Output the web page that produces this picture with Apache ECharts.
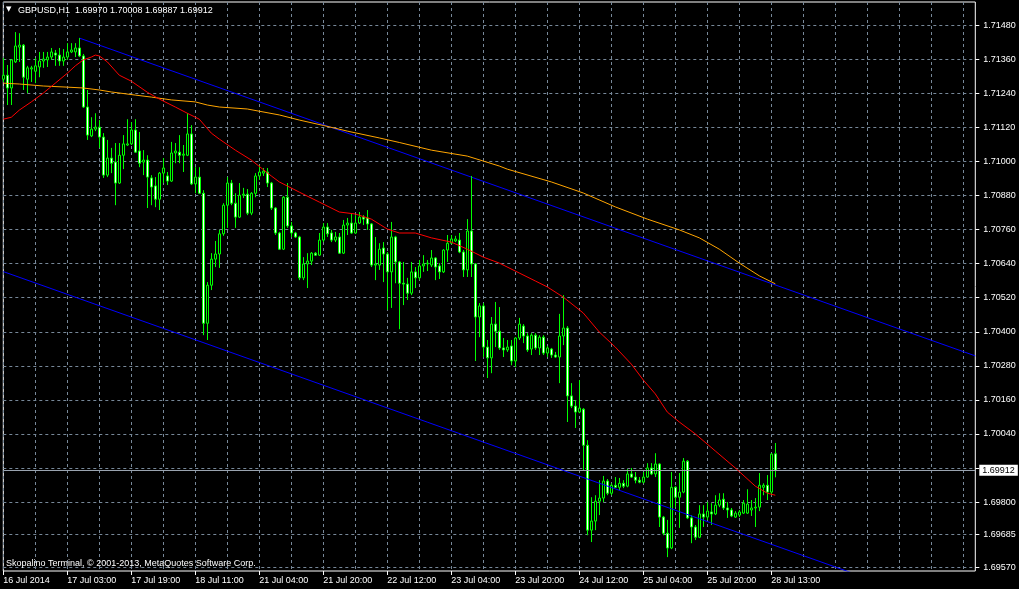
<!DOCTYPE html>
<html>
<head>
<meta charset="utf-8">
<script src="https://cdn.jsdelivr.net/npm/echarts/dist/echarts.min.js"></script>
<style>
html,body{margin:0;padding:0;background:#000;}
#chart{width:1019px;height:589px;}
</style>
</head>
<body>
<div id="chart"></div>
<script>
// ---------- data ----------
const symbol = 'GBPUSD,H1';
const copyright = 'Skopalino Terminal, \u00a9 2001-2013, MetaQuotes Software Corp.';
const tickLabels = ['16 Jul 2014','17 Jul 03:00','17 Jul 19:00','18 Jul 11:00','21 Jul 04:00','21 Jul 20:00',
  '22 Jul 12:00','23 Jul 04:00','23 Jul 20:00','24 Jul 12:00','25 Jul 04:00','25 Jul 20:00','28 Jul 13:00'];
const barsPerLabel = 16;
const barsPerGridLine = 8;
const slotCount = 244; // bars + empty space to the right edge
const priceLabels = [1.69570,1.69685,1.69800,1.70040,1.70160,1.70280,1.70400,1.70520,1.70640,1.70760,1.70880,1.71000,1.71120,1.71240,1.71360,1.71480];
const priceGrid = [1.69570,1.69685,1.69800,1.69920,1.70040,1.70160,1.70280,1.70400,1.70520,1.70640,1.70760,1.70880,1.71000,1.71120,1.71240,1.71360,1.71480];
const priceMin = 1.69557, priceMax = 1.71562;

// [open, close, low, high]
const ohlc = [
[1.71290,1.71304,1.71280,1.71365],[1.71304,1.71259,1.71199,1.71340],[1.71259,1.71358,1.71199,1.71361],[1.71351,1.71407,1.71347,1.71456],
[1.71403,1.71410,1.71351,1.71452],[1.71410,1.71297,1.71252,1.71414],[1.71290,1.71330,1.71241,1.71337],[1.71326,1.71330,1.71280,1.71337],
[1.71318,1.71337,1.71276,1.71365],[1.71333,1.71354,1.71297,1.71386],[1.71354,1.71361,1.71330,1.71386],[1.71358,1.71368,1.71333,1.71386],
[1.71368,1.71386,1.71358,1.71400],[1.71382,1.71375,1.71337,1.71393],[1.71375,1.71354,1.71337,1.71400],[1.71354,1.71368,1.71337,1.71396],
[1.71368,1.71386,1.71358,1.71417],[1.71386,1.71393,1.71382,1.71417],[1.71386,1.71400,1.71368,1.71417],[1.71400,1.71372,1.71368,1.71435],
[1.71372,1.71192,1.71189,1.71379],[1.71192,1.71093,1.71076,1.71252],[1.71090,1.71114,1.71086,1.71156],[1.71114,1.71121,1.71107,1.71170],
[1.71121,1.71086,1.71048,1.71146],[1.71086,1.70952,1.70942,1.71100],[1.70952,1.71012,1.70945,1.71076],[1.71012,1.70994,1.70959,1.71048],
[1.70998,1.70924,1.70846,1.71065],[1.70924,1.71022,1.70921,1.71065],[1.71022,1.71062,1.70973,1.71093],[1.71058,1.71062,1.71055,1.71149],
[1.71062,1.71111,1.71058,1.71139],[1.71111,1.71033,1.71030,1.71149],[1.71037,1.70994,1.70980,1.71104],[1.70998,1.71005,1.70952,1.71040],
[1.71005,1.70945,1.70836,1.71022],[1.70942,1.70910,1.70846,1.70952],[1.70914,1.70867,1.70839,1.70945],[1.70867,1.70959,1.70829,1.70963],
[1.70959,1.70977,1.70924,1.71012],[1.70949,1.70931,1.70917,1.70963],[1.70931,1.71030,1.70928,1.71069],[1.71030,1.71037,1.70994,1.71065],
[1.71033,1.71022,1.70994,1.71093],[1.71022,1.71026,1.70963,1.71058],[1.71022,1.71097,1.71019,1.71170],[1.71097,1.70921,1.70917,1.71128],
[1.70921,1.70945,1.70888,1.70980],[1.70945,1.70888,1.70885,1.70980],[1.70888,1.70430,1.70388,1.70899],[1.70430,1.70564,1.70371,1.70575],
[1.70564,1.70656,1.70547,1.70677],[1.70656,1.70674,1.70628,1.70720],[1.70674,1.70745,1.70625,1.70759],[1.70745,1.70846,1.70738,1.70853],
[1.70846,1.70924,1.70766,1.70945],[1.70924,1.70853,1.70846,1.70935],[1.70853,1.70804,1.70766,1.70888],[1.70804,1.70881,1.70801,1.70924],
[1.70881,1.70885,1.70871,1.70907],[1.70885,1.70818,1.70811,1.70903],[1.70818,1.70888,1.70811,1.70892],[1.70888,1.70949,1.70874,1.70959],
[1.70949,1.70963,1.70935,1.70987],[1.70959,1.70966,1.70949,1.70977],[1.70963,1.70924,1.70910,1.70977],[1.70924,1.70836,1.70829,1.70928],
[1.70836,1.70748,1.70741,1.70839],[1.70748,1.70691,1.70688,1.70752],[1.70691,1.70874,1.70688,1.70878],[1.70874,1.70773,1.70766,1.70924],
[1.70773,1.70748,1.70734,1.70787],[1.70748,1.70734,1.70731,1.70752],[1.70734,1.70590,1.70582,1.70738],[1.70590,1.70639,1.70582,1.70663],
[1.70639,1.70649,1.70554,1.70677],[1.70649,1.70677,1.70635,1.70681],[1.70677,1.70670,1.70667,1.70681],[1.70670,1.70723,1.70667,1.70748],
[1.70723,1.70769,1.70716,1.70783],[1.70769,1.70745,1.70734,1.70783],[1.70748,1.70723,1.70716,1.70759],[1.70723,1.70734,1.70716,1.70752],
[1.70734,1.70677,1.70674,1.70748],[1.70677,1.70776,1.70674,1.70794],[1.70776,1.70783,1.70741,1.70801],[1.70783,1.70748,1.70745,1.70818],
[1.70748,1.70783,1.70745,1.70811],[1.70783,1.70804,1.70780,1.70822],[1.70804,1.70797,1.70776,1.70811],[1.70801,1.70780,1.70759,1.70829],
[1.70780,1.70635,1.70628,1.70783],[1.70635,1.70639,1.70582,1.70734],[1.70635,1.70691,1.70618,1.70712],[1.70695,1.70674,1.70575,1.70716],
[1.70674,1.70611,1.70477,1.70681],[1.70611,1.70734,1.70484,1.70787],[1.70734,1.70646,1.70571,1.70738],[1.70646,1.70571,1.70409,1.70649],
[1.70571,1.70568,1.70494,1.70646],[1.70568,1.70536,1.70512,1.70590],[1.70536,1.70611,1.70529,1.70646],[1.70611,1.70590,1.70554,1.70628],
[1.70590,1.70632,1.70582,1.70653],[1.70632,1.70639,1.70611,1.70670],[1.70639,1.70642,1.70614,1.70653],[1.70635,1.70660,1.70628,1.70688],
[1.70660,1.70628,1.70582,1.70663],[1.70632,1.70611,1.70586,1.70642],[1.70611,1.70688,1.70607,1.70691],[1.70688,1.70712,1.70646,1.70741],
[1.70712,1.70727,1.70709,1.70741],[1.70720,1.70727,1.70716,1.70738],[1.70723,1.70681,1.70677,1.70748],[1.70681,1.70618,1.70593,1.70688],
[1.70618,1.70755,1.70593,1.70797],[1.70755,1.70639,1.70593,1.70949],[1.70639,1.70452,1.70297,1.70642],[1.70452,1.70491,1.70381,1.70501],
[1.70491,1.70346,1.70311,1.70501],[1.70346,1.70308,1.70237,1.70371],[1.70308,1.70427,1.70254,1.70452],[1.70427,1.70402,1.70346,1.70505],
[1.70402,1.70343,1.70336,1.70487],[1.70343,1.70336,1.70311,1.70378],[1.70336,1.70346,1.70329,1.70371],[1.70350,1.70297,1.70282,1.70371],
[1.70297,1.70378,1.70275,1.70381],[1.70378,1.70427,1.70371,1.70449],[1.70420,1.70385,1.70360,1.70427],[1.70385,1.70336,1.70329,1.70395],
[1.70339,1.70388,1.70318,1.70395],[1.70388,1.70343,1.70336,1.70395],[1.70343,1.70381,1.70318,1.70388],[1.70381,1.70325,1.70318,1.70388],
[1.70325,1.70343,1.70311,1.70350],[1.70339,1.70318,1.70308,1.70343],[1.70318,1.70311,1.70308,1.70329],[1.70311,1.70385,1.70219,1.70463],
[1.70385,1.70413,1.70353,1.70529],[1.70413,1.70174,1.70082,1.70420],[1.70174,1.70138,1.70131,1.70219],[1.70138,1.70117,1.70061,1.70159],
[1.70117,1.70131,1.70113,1.70230],[1.70127,1.70000,1.69913,1.70131],[1.70000,1.69701,1.69683,1.70018],[1.69701,1.69733,1.69659,1.69817],
[1.69733,1.69803,1.69701,1.69824],[1.69803,1.69814,1.69754,1.69877],[1.69814,1.69874,1.69800,1.69892],[1.69874,1.69831,1.69824,1.69881],
[1.69831,1.69859,1.69824,1.69866],[1.69859,1.69852,1.69849,1.69888],[1.69852,1.69866,1.69842,1.69885],[1.69866,1.69856,1.69849,1.69877],
[1.69856,1.69899,1.69852,1.69916],[1.69899,1.69888,1.69885,1.69920],[1.69888,1.69877,1.69866,1.69906],[1.69877,1.69870,1.69866,1.69888],
[1.69870,1.69888,1.69866,1.69906],[1.69888,1.69920,1.69885,1.69937],[1.69920,1.69899,1.69895,1.69937],[1.69899,1.69934,1.69888,1.69972],
[1.69934,1.69747,1.69712,1.69937],[1.69747,1.69690,1.69683,1.69751],[1.69690,1.69638,1.69606,1.69737],[1.69638,1.69852,1.69634,1.69906],
[1.69852,1.69817,1.69782,1.69856],[1.69817,1.69835,1.69709,1.69902],[1.69835,1.69944,1.69831,1.69955],[1.69944,1.69744,1.69740,1.69948],
[1.69744,1.69712,1.69655,1.69754],[1.69712,1.69676,1.69666,1.69719],[1.69676,1.69758,1.69673,1.69789],[1.69758,1.69747,1.69712,1.69789],
[1.69747,1.69768,1.69737,1.69800],[1.69765,1.69758,1.69719,1.69796],[1.69758,1.69789,1.69754,1.69824],[1.69789,1.69807,1.69782,1.69831],
[1.69810,1.69779,1.69772,1.69831],[1.69779,1.69772,1.69744,1.69800],[1.69772,1.69751,1.69747,1.69779],[1.69747,1.69761,1.69744,1.69768],
[1.69754,1.69765,1.69747,1.69772],[1.69761,1.69796,1.69758,1.69807],[1.69761,1.69793,1.69758,1.69845],[1.69772,1.69779,1.69751,1.69807],
[1.69779,1.69782,1.69712,1.69814],[1.69782,1.69859,1.69768,1.69902],[1.69852,1.69859,1.69824,1.69866],[1.69859,1.69835,1.69807,1.69895],
[1.69835,1.69969,1.69824,1.69972],[1.69970,1.69912,1.69887,1.70008]
];

// moving averages, read at bar indices: [barIndex, price]
const maFast = [[0,1.71149],[2,1.71156],[4,1.71181],[7,1.71210],[10,1.71241],[13,1.71276],[16,1.71311],[18,1.71337],[20,1.71358],
[22,1.71368],[23,1.71375],[24,1.71372],[26,1.71351],[29,1.71304],[32,1.71283],[36,1.71244],[39,1.71220],[43,1.71192],[46,1.71170],
[49,1.71149],[52,1.71100],[54,1.71079],[58,1.71040],[62,1.71005],[67,1.70949],[69,1.70928],[74,1.70892],[79,1.70857],[84,1.70822],
[88,1.70815],[92,1.70797],[96,1.70762],[99,1.70748],[103,1.70748],[107,1.70731],[112,1.70716],[116,1.70691],[120,1.70663],[124,1.70642],
[128,1.70614],[133,1.70579],[136,1.70558],[140,1.70522],[145,1.70466],[149,1.70399],[153,1.70346],[157,1.70286],[160,1.70230],[163,1.70181],
[166,1.70117],[169,1.70082],[173,1.70040],[178,1.69980],[183,1.69920],[188,1.69856],[191,1.69831],[193,1.69824]];
const maSlow = [[0,1.71276],[4,1.71273],[10,1.71266],[16,1.71262],[20,1.71259],[24,1.71252],[27,1.71245],[33,1.71234],[37,1.71227],
[42,1.71217],[48,1.71210],[51,1.71199],[54,1.71192],[61,1.71185],[69,1.71164],[74,1.71146],[80,1.71127],[86,1.71107],[94,1.71083],
[99,1.71067],[107,1.71040],[116,1.71019],[124,1.70984],[126,1.70973],[137,1.70928],[145,1.70889],[153,1.70840],[161,1.70797],
[169,1.70759],[174,1.70731],[179,1.70691],[184,1.70642],[189,1.70597],[193,1.70569]];
// channel lines: [barIndex, price]
const channelUpper = [[19,1.71435],[243,1.70315]];
const channelLower = [[0,1.70612],[243,1.69396]];

// ---------- chart ----------
const FONT = 'Liberation Sans, Arial, sans-serif';
const GRIDC = '#778899';
const last = ohlc[ohlc.length - 1];
const fmt = v => v.toFixed(5);
const headerText = symbol + '  ' + fmt(last[0]) + ' ' + fmt(last[3]) + ' ' + fmt(last[2]) + ' ' + fmt(last[1]);
const slots = Array.from({length: slotCount}, (_, i) => String(i));
const isLabelSlot = i => i % barsPerLabel === 0 && i / barsPerLabel < tickLabels.length;

const chart = echarts.init(document.getElementById('chart'), null, {renderer: 'canvas'});
chart.setOption({
  animation: false,
  backgroundColor: '#000000',
  textStyle: {fontFamily: FONT},
  title: [
    {text: '\u25BC', left: 6, top: 6, padding: 0, textStyle: {color: '#fff', fontSize: 7, fontWeight: 'normal', fontFamily: 'DejaVu Sans'}},
    {text: headerText, left: 18, top: 5, padding: 0, textStyle: {color: '#fff', fontSize: 9, lineHeight: 11, fontWeight: 'normal', fontFamily: FONT}},
    {text: copyright, left: 6, top: 558, padding: 0, textStyle: {color: '#fff', fontSize: 9, lineHeight: 11, fontWeight: 'normal', fontFamily: FONT}}
  ],
  grid: {left: 3.3, top: 2, width: 972, height: 569, show: true, borderColor: '#ffffff', borderWidth: 1, backgroundColor: 'transparent', containLabel: false},
  xAxis: {
    type: 'category', data: slots, boundaryGap: false,
    axisLine: {show: false},
    axisTick: {show: true, length: 4, interval: (i) => isLabelSlot(i), lineStyle: {color: '#ffffff'}},
    axisLabel: {show: true, interval: (i) => isLabelSlot(i), formatter: (v, i) => isLabelSlot(i) ? tickLabels[i / barsPerLabel] : '',
      align: 'left', color: '#ffffff', fontSize: 9, fontFamily: FONT, margin: 5},
    splitLine: {show: true, interval: (i) => i % barsPerGridLine === 0, lineStyle: {color: GRIDC, type: [3, 3], width: 1}}
  },
  yAxis: {
    type: 'value', position: 'right', min: priceMin, max: priceMax, scale: true,
    axisLine: {show: false},
    axisTick: {show: true, length: 4, customValues: priceGrid, lineStyle: {color: '#ffffff'}},
    axisLabel: {show: true, customValues: priceLabels, formatter: v => fmt(v), color: '#ffffff', fontSize: 9, fontFamily: FONT, margin: 8},
    splitLine: {show: true, lineStyle: {color: GRIDC, type: [3, 3], width: 1}}
  },
  series: [
    {
      type: 'line', data: channelUpper, symbol: 'none', lineStyle: {color: '#0000ff', width: 1}, z: 3, clip: true,
      markLine: {
        silent: true, symbol: ['none', 'none'], animation: false, precision: 5,
        lineStyle: {color: '#9aa4b0', type: 'solid', width: 1},
        label: {show: true, position: 'end', distance: 4, formatter: () => fmt(last[1]), color: '#000000', backgroundColor: '#ffffff',
          fontSize: 9, fontFamily: FONT, lineHeight: 10, padding: [1, 3, 0, 3]},
        data: [{yAxis: last[1]}]
      }
    },
    {
      type: 'candlestick', data: ohlc, barWidth: 3, z: 4,
      itemStyle: {color: '#000000', color0: '#ffffff', borderColor: '#00ff00', borderColor0: '#00ff00', borderWidth: 1}
    },
    {type: 'line', data: channelLower, symbol: 'none', lineStyle: {color: '#0000ff', width: 1}, z: 5, clip: true},
    {type: 'line', data: maSlow, symbol: 'none', lineStyle: {color: '#ffa500', width: 1}, z: 5, clip: true},
    {type: 'line', data: maFast, symbol: 'none', lineStyle: {color: '#ff0000', width: 1}, z: 6, clip: true}
  ]
});
</script>
</body>
</html>
